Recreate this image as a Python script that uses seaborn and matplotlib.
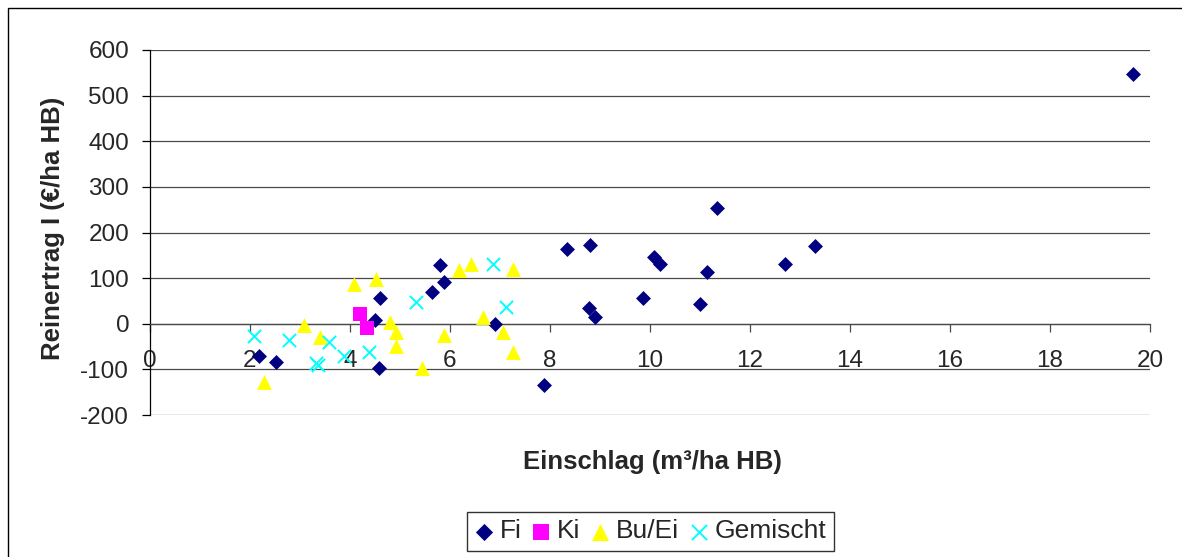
import matplotlib
matplotlib.use("Agg")
import matplotlib.pyplot as plt
import seaborn as sns
import pandas as pd
from matplotlib.patches import Rectangle

# ---- data ----
fi_x = [2.17, 2.52, 4.49, 4.57, 4.60, 5.64, 5.80, 5.88, 6.89, 7.88, 8.33, 8.77,
        8.80, 8.89, 9.85, 10.08, 10.19, 11.00, 11.13, 11.33, 12.69, 13.29, 19.66]
fi_y = [-71, -84, 8, -96, 57, 70, 128, 92, 0, -135, 163, 35,
        172, 14, 57, 146, 131, 43, 114, 254, 132, 171, 547]

ki_x = [4.20, 4.33]
ki_y = [22, -9]

bu_x = [2.28, 3.08, 3.40, 4.08, 4.52, 4.80, 4.92, 4.92, 5.44, 5.88, 6.17, 6.41,
        6.65, 7.05, 7.25, 7.25]
bu_y = [-128, -2, -29, 87, 99, 3, -19, -49, -98, -24, 117, 131,
        15, -18, -63, 121]

ge_x = [2.08, 2.77, 3.32, 3.36, 3.57, 3.88, 4.37, 5.32, 6.85, 7.12]
ge_y = [-27, -35, -87, -90, -40, -71, -62, 48, 131, 36]

series_names = ["Fi", "Ki", "Bu/Ei", "Gemischt"]
x_ticks = [0, 2, 4, 6, 8, 10, 12, 14, 16, 18, 20]
y_ticks = [-200, -100, 0, 100, 200, 300, 400, 500, 600]
x_label = "Einschlag (m³/ha HB)"
y_label = "Reinertrag I (€/ha HB)"

df = pd.concat([
    pd.DataFrame({"x": fi_x, "y": fi_y, "Art": "Fi"}),
    pd.DataFrame({"x": ki_x, "y": ki_y, "Art": "Ki"}),
    pd.DataFrame({"x": bu_x, "y": bu_y, "Art": "Bu/Ei"}),
    pd.DataFrame({"x": ge_x, "y": ge_y, "Art": "Gemischt"}),
], ignore_index=True)

colors = {"Fi": "#000080", "Ki": "#FF00FF", "Bu/Ei": "#FFFF00", "Gemischt": "#00FFFF"}
markers = {"Fi": "D", "Ki": "s", "Bu/Ei": "^", "Gemischt": "x"}
sizes = {"Fi": 58, "Ki": 105, "Bu/Ei": 115, "Gemischt": 90}

sns.set_theme(style="white")
plt.rcParams["font.family"] = ["Liberation Sans", "DejaVu Sans"]

fig = plt.figure(figsize=(11.82, 5.57), dpi=100)
ax = fig.add_axes([150 / 1182, 1 - 415 / 557, 1000 / 1182, 365 / 557])

for name in series_names:
    sub = df[df["Art"] == name]
    kw = dict(data=sub, x="x", y="y", ax=ax, color=colors[name], marker=markers[name],
              s=sizes[name], label=name, legend=False, zorder=3)
    kw["linewidth"] = 1.4 if markers[name] == "x" else 0
    sns.scatterplot(**kw)

ax.set_xlim(0, 20)
ax.set_ylim(-200, 600)
ax.set_xticks(x_ticks)
ax.set_yticks(y_ticks)
ax.set_xticklabels([str(t) for t in x_ticks])
ax.set_yticklabels([str(t) for t in y_ticks])

for v in y_ticks:
    ax.axhline(v, color="#4a4a4a", lw=0.9, zorder=1)

ax.spines["top"].set_visible(False)
ax.spines["right"].set_visible(False)
ax.spines["left"].set_color("black")
ax.spines["left"].set_linewidth(0.9)
ax.spines["bottom"].set_position(("data", 0))
ax.spines["bottom"].set_color("#4a4a4a")
ax.spines["bottom"].set_linewidth(0.9)

ax.tick_params(axis="x", direction="out", length=6, width=0.9, color="#4a4a4a",
               pad=13, labelsize=17.5, bottom=True)
ax.tick_params(axis="y", direction="out", length=6, width=0.9, color="black",
               pad=9, labelsize=17.5, left=True)

ax.set_xlabel(x_label, fontsize=18.5, fontweight="bold")
ax.xaxis.label.set_verticalalignment("center")
ax.xaxis.set_label_coords(0.502, -0.129)
ax.set_ylabel(y_label, fontsize=18.5, fontweight="bold")
ax.yaxis.label.set_rotation_mode("default")
ax.yaxis.label.set_verticalalignment("center")
ax.yaxis.label.set_horizontalalignment("center")
ax.yaxis.set_label_coords(-0.097, 0.51)

leg = fig.legend(loc="center", bbox_to_anchor=(650.5 / 1182, 1 - 531.5 / 557),
                 bbox_transform=fig.transFigure, ncol=4, fontsize=19,
                 frameon=True, fancybox=False, shadow=False, edgecolor="black",
                 handlelength=0.7, handletextpad=0.25, columnspacing=0.4,
                 borderpad=0.3, borderaxespad=0, scatterpoints=1, markerscale=1.15)
leg.get_frame().set_linewidth(1.0)

top = 1 - 8 / 557
fig.patches.append(Rectangle((8 / 1182, -0.2), 1.2, top + 0.2,
                             transform=fig.transFigure, fill=False,
                             edgecolor="black", linewidth=1.0))

fig.savefig("out.png", dpi=100)
